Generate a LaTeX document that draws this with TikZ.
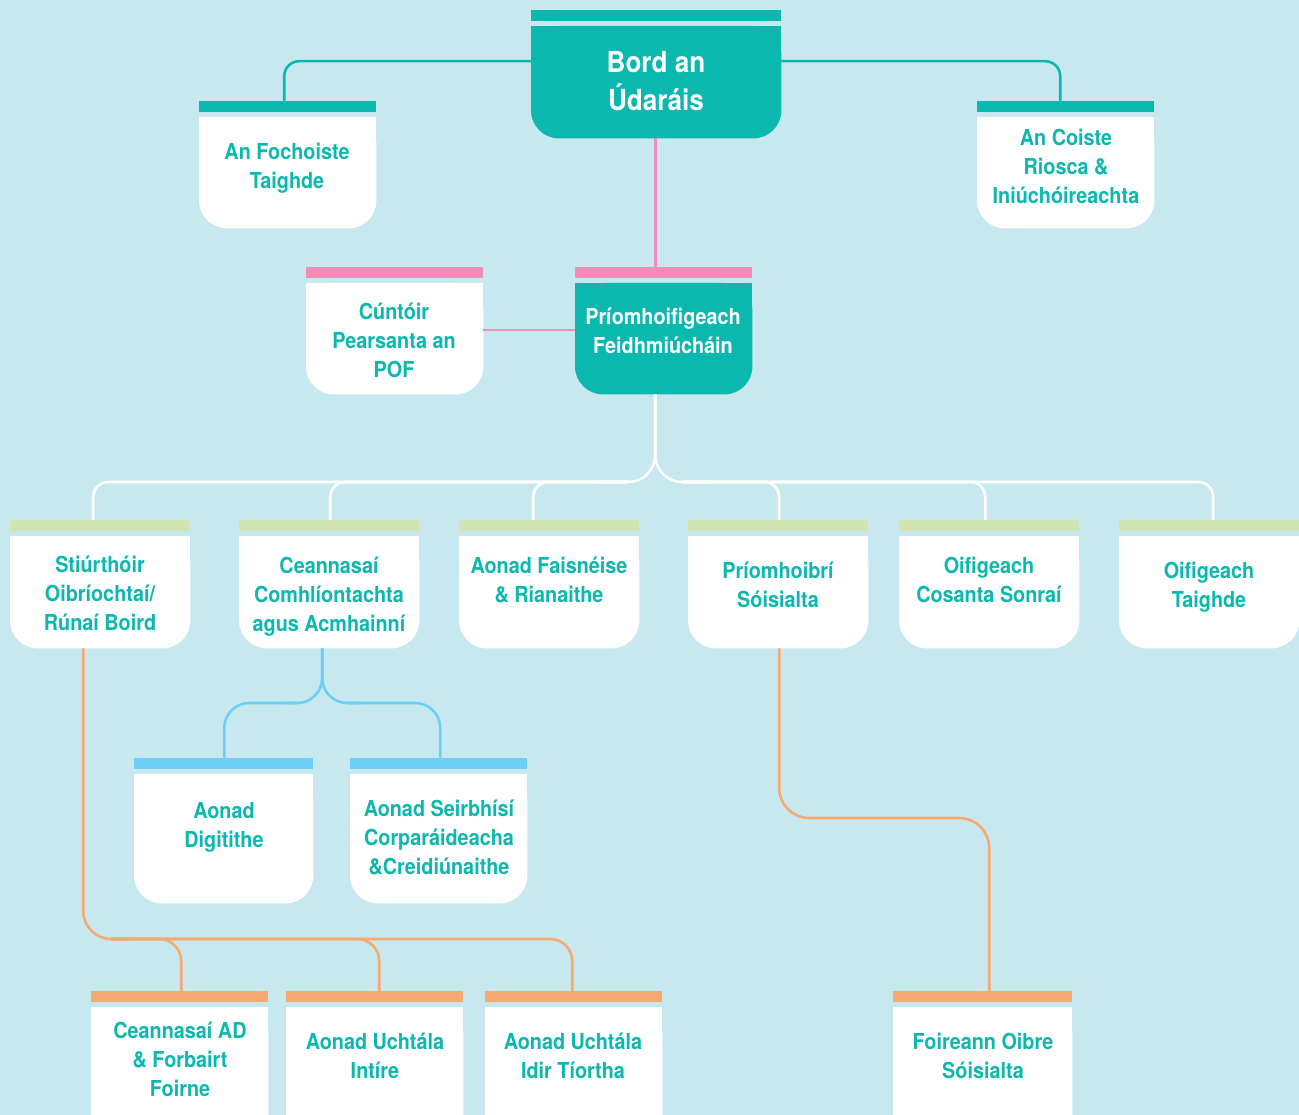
\documentclass[tikz,border=0pt]{standalone}
\usepackage{fontspec}
\newfontfamily\cnd[FakeStretch=0.9]{TeX Gyre Heros}
\definecolor{bgc}{HTML}{C8E8EF}
\definecolor{tealc}{HTML}{0AB8B0}
\definecolor{pinkc}{HTML}{F28DBA}
\definecolor{greenc}{HTML}{D1E4B1}
\definecolor{bluec}{HTML}{6DCFF6}
\definecolor{orangec}{HTML}{F7A972}
\newcommand\orgbox[7]{%
  \node[fill=#6, inner sep=0pt, minimum width={#3-#2}, minimum height=11, anchor=north west] (#1H) at (#2,#4) {};
  \node[inner sep=0pt, minimum width={#3-#2}, minimum height={#5-#4-16}, anchor=north west] (#1) at (#2,#4+16) {};
  \fill[#7, rounded corners=28pt] (#1.north west) rectangle (#1.south east);
  \fill[#7] (#1.north west) rectangle ([yshift=-40pt]#1.north east);
}
\begin{document}
\begin{tikzpicture}[x=1pt,y=-1pt,
  txt/.style={align=center, inner sep=0pt, text=tealc, font=\cnd\bfseries\fontsize{22}{29}\selectfont},
  wtxt/.style={txt, text=white},
  tline/.style={draw=tealc, line width=2.6pt},
  pline/.style={draw=pinkc, line width=2.6pt},
  wline/.style={draw=white, line width=2.6pt},
  bline/.style={draw=bluec, line width=2.6pt},
  oline/.style={draw=orangec, line width=2.6pt}]
\fill[bgc] (0,0) rectangle (1299,1115);
\useasboundingbox (0,0) rectangle (1299,1115);
\clip (0,0) rectangle (1299,1115);

% boxes
\orgbox{board}{531}{781}{10}{138}{tealc}{tealc}
\orgbox{foch}{199}{376}{101}{228}{tealc}{white}
\orgbox{coiste}{977}{1154}{101}{228}{tealc}{white}
\orgbox{cunt}{306}{483}{267}{394}{pinkc}{white}
\orgbox{po}{575}{752}{267}{394}{pinkc}{tealc}
\orgbox{sti}{10}{190}{520}{648}{greenc}{white}
\orgbox{cean}{239}{419}{520}{648}{greenc}{white}
\orgbox{aonf}{459}{639}{520}{648}{greenc}{white}
\orgbox{prio}{688}{868}{520}{648}{greenc}{white}
\orgbox{oifc}{899}{1079}{520}{648}{greenc}{white}
\orgbox{oift}{1119}{1299}{520}{648}{greenc}{white}
\orgbox{dig}{134}{313}{758}{903}{bluec}{white}
\orgbox{seir}{350}{527}{758}{903}{bluec}{white}
\orgbox{cad}{91}{268}{991}{1140}{orangec}{white}
\orgbox{inti}{286}{463}{991}{1140}{orangec}{white}
\orgbox{idir}{485}{662}{991}{1140}{orangec}{white}
\orgbox{foir}{893}{1072}{991}{1140}{orangec}{white}

% texts
\node[wtxt, font=\cnd\bfseries\fontsize{29}{38}\selectfont] (boardT) at (656,81) {Bord an\\Údaráis};
\node[txt] (fochT) at (287,168.5) {An Fochoiste\\Taighde};
\node[txt] (coisteT) at (1066,166) {An Coiste\\Riosca \&\\Iniúchóireachta};
\node[txt] (cuntT) at (394,340) {Cúntóir\\Pearsanta an\\POF};
\node[wtxt] (poT) at (663,330.5) {Príomhoifigeach\\Feidhmiúcháin};
\node[txt] (stiT) at (100,593) {Stiúrthóir\\Oibríochtaí/\\Rúnaí Boird};
\node[txt] (ceanT) at (329,597) {Ceannasaí\\Comhlíontachta\\agus Acmhainní};
\node[txt] (aonfT) at (549,579.5) {Aonad Faisnéise\\\& Rianaithe};
\node[txt] (prioT) at (778,584.5) {Príomhoibrí\\Sóisialta};
\node[txt] (oifcT) at (989,579.5) {Oifigeach\\Cosanta Sonraí};
\node[txt] (oiftT) at (1209,587.5) {Oifigeach\\Taighde};
\node[txt] (digT) at (224,827) {Aonad\\Digitithe};
\node[txt] (seirT) at (439,837) {Aonad Seirbhísí\\Corparáideacha\\\&Creidiúnaithe};
\node[txt] (cadT) at (180,1059.5) {Ceannasaí AD\\\& Forbairt\\Foirne};
\node[txt] (intiT) at (375,1055.5) {Aonad Uchtála\\Intíre};
\node[txt] (idirT) at (573,1055.5) {Aonad Uchtála\\Idir Tíortha};
\node[txt] (foirT) at (983,1055.5) {Foireann Oibre\\Sóisialta};

% teal connectors
\draw[tline, rounded corners=15pt] ([yshift=21pt]board.west) -| ([xshift=-3.5pt]fochH.north);
\draw[tline, rounded corners=15pt] ([yshift=21pt]board.east) -| ([xshift=-5.5pt]coisteH.north);
% pink connectors
\draw[pline] ([xshift=-1pt]board.south) -- ([xshift=-1pt]board.south |- poH.north);
\draw[pline] ([yshift=8.5pt]cunt.east) -- ([yshift=8.5pt]po.west);
% white connectors
\coordinate (wj) at ([xshift=-1pt]board.south |- 0,482);
\draw[wline, rounded corners=27pt] ([xshift=-1pt]board.south |- po.south) -- (wj) -- ([xshift=-60pt]wj);
\draw[wline, rounded corners=27pt] ([xshift=-1pt]board.south |- po.south) -- (wj) -- ([xshift=60pt]wj);
\draw[wline, rounded corners=15pt] ([xshift=-27pt]wj) -| ([xshift=-7pt]stiH.north);
\draw[wline, rounded corners=15pt] ([xshift=-27pt]wj) -| ([xshift=1pt]ceanH.north);
\draw[wline, rounded corners=15pt] ([xshift=-27pt]wj) -| ([xshift=-16pt]aonfH.north);
\draw[wline, rounded corners=15pt] ([xshift=27pt]wj) -| ([xshift=1pt]prioH.north);
\draw[wline, rounded corners=15pt] ([xshift=27pt]wj) -| ([xshift=-4pt]oifcH.north);
\draw[wline, rounded corners=15pt] ([xshift=27pt]wj) -| ([xshift=4pt]oiftH.north);
% blue connectors
\coordinate (bj) at ([xshift=-7pt]cean.south |- 0,703);
\draw[bline, rounded corners=25pt] ([xshift=-7pt]cean.south) -- (bj) -- ([xshift=-40pt]bj);
\draw[bline, rounded corners=25pt] ([xshift=-7pt]cean.south) -- (bj) -- ([xshift=40pt]bj);
\draw[bline, rounded corners=25pt] ([xshift=-25pt]bj) -| ([xshift=0.5pt]digH.north);
\draw[bline, rounded corners=25pt] ([xshift=25pt]bj) -| ([xshift=1.5pt]seirH.north);
% orange connectors
\coordinate (oj) at ([xshift=-17pt]sti.south |- 0,939);
\draw[oline, rounded corners=28pt] ([xshift=-17pt]sti.south) -- (oj) -- ([xshift=50pt]oj);
\draw[oline, rounded corners=22pt] ([xshift=28pt]oj) -| ([xshift=1.5pt]cadH.north);
\draw[oline, rounded corners=22pt] ([xshift=28pt]oj) -| ([xshift=4.5pt]intiH.north);
\draw[oline, rounded corners=22pt] ([xshift=28pt]oj) -| ([xshift=-1.5pt]idirH.north);
\coordinate (om) at ([xshift=1pt]prio.south |- 0,818);
\draw[oline, rounded corners=30pt] ([xshift=1pt]prio.south) -- (om) -| ([xshift=6.5pt]foirH.north);
\end{tikzpicture}
\end{document}
